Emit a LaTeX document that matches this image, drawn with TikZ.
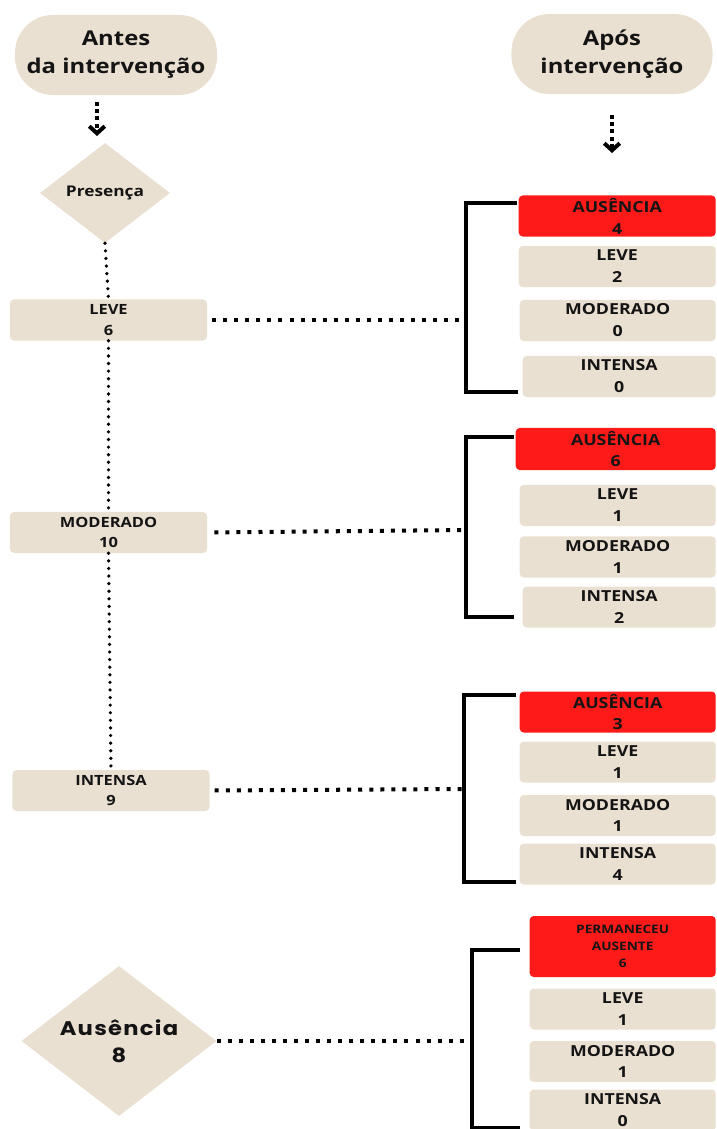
\documentclass[tikz,border=0pt]{standalone}
\usepackage{fontspec}
\setmainfont{Open Sans}
\newfontfamily\boxfont[FakeStretch=1.17]{Open Sans}
\newfontfamily\diafont[FakeStretch=1.15, LetterSpace=6.5]{Poppins}
\usepackage{tikz}
\usetikzlibrary{positioning, shapes.geometric, arrows.meta}
\definecolor{Beige}{RGB}{234, 224, 210}
\definecolor{AlertRed}{RGB}{255, 26, 26}
\definecolor{TextDark}{RGB}{20, 20, 20}

\begin{document}
\begin{tikzpicture}[
    x=0.025cm, y=-0.025cm,
    every node/.style={align=center, text=TextDark},
    pill/.style={fill=Beige, rounded corners=0.95cm, minimum width=5.05cm, minimum height=2cm, inner sep=0pt, font={\boxfont\bfseries\fontsize{14.5}{20}\selectfont}},
    leftbox/.style={fill=Beige, rounded corners=0.1cm, minimum width=4.925cm, minimum height=1.025cm, inner sep=0pt, font={\boxfont\bfseries\fontsize{10}{14.5}\selectfont}},
    rightbox/.style={fill=Beige, rounded corners=0.1cm, anchor=east, minimum width=4.9cm, minimum height=1.025cm, inner sep=0pt, font={\boxfont\bfseries\fontsize{10.8}{15.6}\selectfont}},
    redbox/.style={rightbox, fill=AlertRed},
    decision/.style={diamond, shape aspect=1.3, fill=Beige, inner sep=0pt},
    hdots/.style={line width=2.85pt, dash pattern=on 2.85pt off 5pt},
    vdots/.style={line width=2.6pt, line cap=round, dash pattern=on 0pt off 5.4pt},
    bracket/.style={line width=2.85pt},
    downarrow/.style={line width=2.85pt, dash pattern=on 2.85pt off 2.3pt, -{Straight Barb[length=5pt, width=11pt]}}
  ]
    \clip (0,0) rectangle (716,1129);

    \node[pill] (antes) at (116,55) {Antes\\da intervenção};
    \node[pill, minimum width=5.025cm] (apos) at (612,54) {Após\\intervenção};

    \coordinate (antesA) at (97,102);
    \coordinate (antesB) at (97,136);
    \coordinate (aposA) at (612,115);
    \coordinate (aposB) at (612,153);
    \draw[downarrow] (antesA) -- (antesB);
    \draw[downarrow] (aposA) -- (aposB);

    \node[decision, minimum width=3.25cm, minimum height=2.5cm, font={\boxfont\bfseries\fontsize{10.5}{13}\selectfont}] (presenca) at (105,193) {Presença};
    \node[leftbox] (leveA) at (108.5,320) {LEVE\\6};
    \node[leftbox] (modA) at (108.5,532.5) {MODERADO\\10};
    \node[leftbox] (intA) at (111,790.5) {INTENSA\\9};
    \node[decision, minimum width=4.875cm, minimum height=3.75cm, font={\diafont\bfseries\fontsize{14}{19}\selectfont}] (ausencia) at (119,1041) {Ausência\\8};

    \draw[vdots] (presenca.south) -- (leveA.north);
    \draw[vdots] (leveA.south) -- (modA.north);
    \draw[vdots] (modA.south) -- (intA.north);

    \node[redbox, minimum width=4.925cm] (ausB1) at (716,216) {AUSÊNCIA\\4};
    \node[rightbox, minimum width=4.925cm] (leveB1) at (716,266.5) {LEVE\\2};
    \node[rightbox] (modB1) at (716,320.5) {MODERADO\\0};
    \node[rightbox, minimum width=4.825cm] (intB1) at (716,376.5) {INTENSA\\0};

    \node[redbox, minimum width=5cm, minimum height=1.05cm] (ausB2) at (716,449) {AUSÊNCIA\\6};
    \node[rightbox] (leveB2) at (716,505.5) {LEVE\\1};
    \node[rightbox] (modB2) at (716,557) {MODERADO\\1};
    \node[rightbox, minimum width=4.825cm] (intB2) at (716,607) {INTENSA\\2};

    \node[redbox] (ausB3) at (716,712) {AUSÊNCIA\\3};
    \node[rightbox] (leveB3) at (716,762) {LEVE\\1};
    \node[rightbox] (modB3) at (716,815.5) {MODERADO\\1};
    \node[rightbox] (intB3) at (716,864) {INTENSA\\4};

    \node[redbox, minimum width=4.65cm, minimum height=1.525cm, font={\boxfont\bfseries\fontsize{8.3}{12}\selectfont}] (ausB4) at (716,946.5) {PERMANECEU\\AUSENTE\\6};
    \node[rightbox, minimum width=4.65cm] (leveB4) at (716,1009) {LEVE\\1};
    \node[rightbox, minimum width=4.65cm] (modB4) at (716,1061.5) {MODERADO\\1};
    \node[rightbox, minimum width=4.65cm] (intB4) at (716,1110) {INTENSA\\0};

    \coordinate (br1) at (466,320);
    \coordinate (br2) at (466,530);
    \coordinate (br3) at (464,789);
    \coordinate (br4) at (472,1040);

    \draw[bracket] (517,203) -- (466,203) -- (466,392) -- (518,392);
    \draw[bracket] (514,437) -- (466,437) -- (466,617) -- (514,617);
    \draw[bracket] (516,695) -- (464,695) -- (464,882) -- (516,882);
    \draw[bracket] (520,950) -- (472,950) -- (472,1128) -- (520,1128);

    \draw[hdots, shorten <=3.5pt] (leveA.east) -- (leveA.east -| br1);
    \draw[hdots, shorten <=5pt] (modA.east) -- (br2);
    \draw[hdots, shorten <=3.5pt] (intA.east) -- (br3);
    \draw[hdots] (ausencia.east) -- (ausencia.east -| br4);
  \end{tikzpicture}
\end{document}
